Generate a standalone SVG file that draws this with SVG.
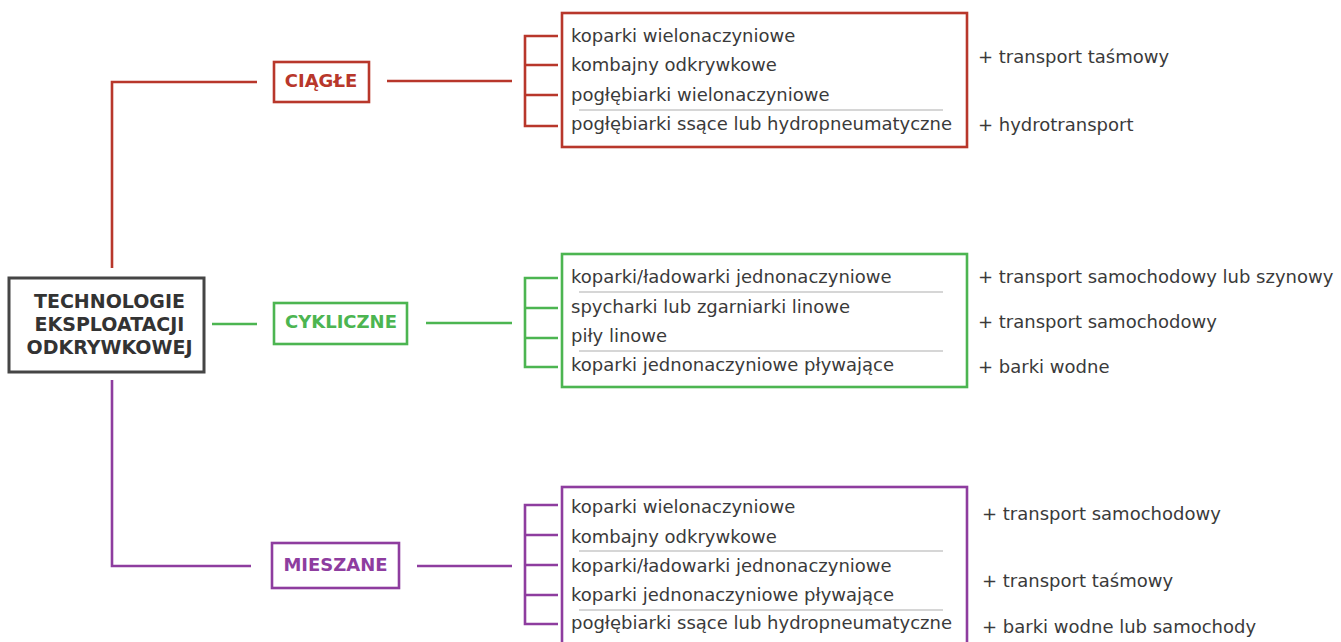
<svg xmlns="http://www.w3.org/2000/svg" width="1341" height="642" viewBox="0 0 1341 642">
<style>
.red{stroke:#b8372b}
.grn{stroke:#4cb551}
.pur{stroke:#8e3d9f}
.ln{fill:none;stroke-width:2.6;stroke-linecap:butt;stroke-linejoin:miter}
.box{fill:#fff;stroke-width:2.6}
.cat{font-family:"DejaVu Sans",Verdana,sans-serif;font-weight:bold;font-size:18px;text-anchor:middle}
.root{font-size:19px;fill:#333}
.item{font-family:"DejaVu Sans",Verdana,sans-serif;font-size:18px;fill:#3a3a3a}
.sep{stroke:#c9c9c9;stroke-width:1.6}
</style>
<rect width="1341" height="642" fill="#fff"/>
<g id="connectors">
  <path class="ln red" d="M112 268 V82 H257"/>
  <path class="ln red" d="M387 81 H512"/>
  <path class="ln red" d="M558 36 H525 V126 H558 M525 65 H558 M525 95 H558"/>
  <path class="ln grn" d="M212 324 H257"/>
  <path class="ln grn" d="M426 323 H512"/>
  <path class="ln grn" d="M558 278 H525 V367 H558 M525 308 H558 M525 338 H558"/>
  <path class="ln pur" d="M112 380 V566 H251"/>
  <path class="ln pur" d="M417 566 H512"/>
  <path class="ln pur" d="M558 505 H525 V624 H558 M525 535 H558 M525 565 H558 M525 595 H558"/>
</g>
<g id="root">
  <rect x="9" y="278" width="195" height="94" fill="#fff" stroke="#454545" stroke-width="3"/>
  <text class="cat root" x="109.5" y="308">TECHNOLOGIE</text>
  <text class="cat root" x="109.5" y="331">EKSPLOATACJI</text>
  <text class="cat root" x="109.5" y="354">ODKRYWKOWEJ</text>
</g>
<g id="ciagle">
  <rect class="box red" x="274" y="62" width="95" height="40"/>
  <text class="cat" fill="#b8372b" x="321" y="87">CIĄGŁE</text>
</g>
<g id="cykliczne">
  <rect class="box grn" x="274" y="303" width="133" height="41"/>
  <text class="cat" fill="#4cb551" x="341" y="328">CYKLICZNE</text>
</g>
<g id="mieszane">
  <rect class="box pur" x="272" y="543" width="127" height="45"/>
  <text class="cat" fill="#8e3d9f" x="335.5" y="571">MIESZANE</text>
</g>
<g id="list-ciagle">
  <rect class="box red" x="562" y="13" width="405" height="134"/>
  <line class="sep" x1="579" y1="110" x2="943" y2="110"/>
  <text class="item" x="571" y="42">koparki wielonaczyniowe</text>
  <text class="item" x="571" y="71">kombajny odkrywkowe</text>
  <text class="item" x="571" y="101">pogłębiarki wielonaczyniowe</text>
  <text class="item" x="571" y="130">pogłębiarki ssące lub hydropneumatyczne</text>
</g>
<g id="list-cykliczne">
  <rect class="box grn" x="562" y="254" width="405" height="133"/>
  <line class="sep" x1="579" y1="292" x2="943" y2="292"/>
  <line class="sep" x1="579" y1="351" x2="943" y2="351"/>
  <text class="item" x="571" y="283">koparki/ładowarki jednonaczyniowe</text>
  <text class="item" x="571" y="313">spycharki lub zgarniarki linowe</text>
  <text class="item" x="571" y="342">piły linowe</text>
  <text class="item" x="571" y="371">koparki jednonaczyniowe pływające</text>
</g>
<g id="list-mieszane">
  <rect class="box pur" x="562" y="487" width="405" height="170"/>
  <line class="sep" x1="579" y1="551" x2="943" y2="551"/>
  <line class="sep" x1="579" y1="610" x2="943" y2="610"/>
  <text class="item" x="571" y="513">koparki wielonaczyniowe</text>
  <text class="item" x="571" y="543">kombajny odkrywkowe</text>
  <text class="item" x="571" y="572">koparki/ładowarki jednonaczyniowe</text>
  <text class="item" x="571" y="601">koparki jednonaczyniowe pływające</text>
  <text class="item" x="571" y="629">pogłębiarki ssące lub hydropneumatyczne</text>
</g>
<g id="transport">
  <text class="item" x="978" y="63">+ transport taśmowy</text>
  <text class="item" x="978" y="131">+ hydrotransport</text>
  <text class="item" x="978" y="283">+ transport samochodowy lub szynowy</text>
  <text class="item" x="978" y="328">+ transport samochodowy</text>
  <text class="item" x="978" y="373">+ barki wodne</text>
  <text class="item" x="982" y="520">+ transport samochodowy</text>
  <text class="item" x="982" y="587">+ transport taśmowy</text>
  <text class="item" x="982" y="633">+ barki wodne lub samochody</text>
</g>
</svg>
